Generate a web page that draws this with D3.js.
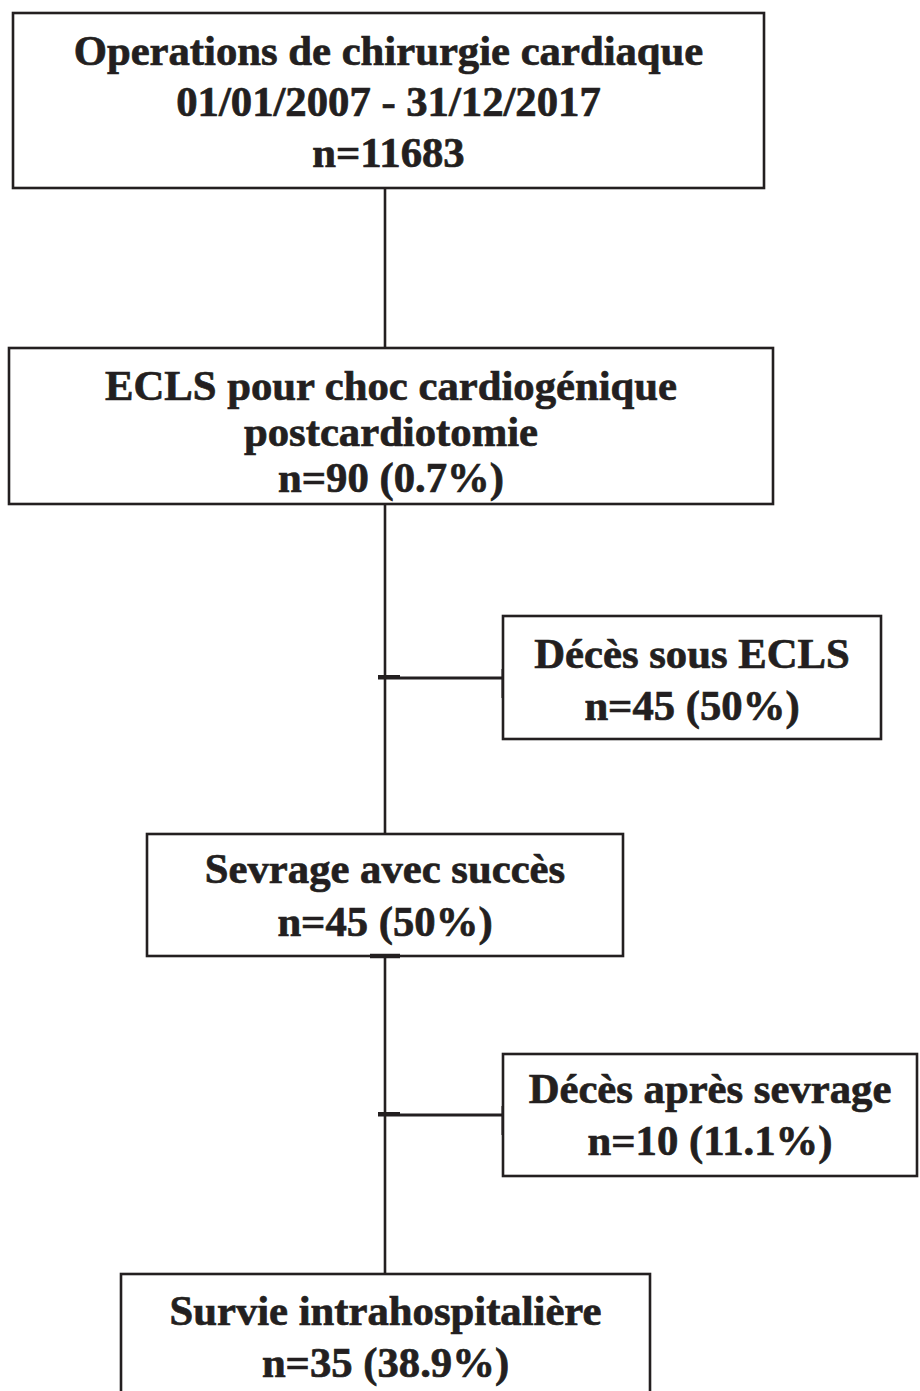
<!DOCTYPE html>
<html>
<head>
<meta charset="utf-8">
<script src="https://cdn.jsdelivr.net/npm/d3@7"></script>
<style>
  html, body { margin: 0; padding: 0; background: #fff; }
</style>
</head>
<body>
<div id="diagram"></div>
<script>
!(function () {
  // - - - - - - - - - -

  // texts of the flow chart (one entry per box)
  const titles = [
    'Operations de chirurgie cardiaque',
    'ECLS pour choc cardiogénique',
    'Décès sous ECLS',
    'Sevrage avec succès',
    'Décès après sevrage',
    'Survie intrahospitalière'
  ];
  const subtitles = [
    ['01/01/2007 - 31/12/2017'],
    ['postcardiotomie'],
    [],
    [],
    [],
    []
  ];
  const counts = [11683, 90, 45, 45, 10, 35];
  const percents = [null, '0.7%', '50%', '50%', '11.1%', '38.9%'];

  // layout (pixels): box edges, first baseline, line step
  const boxes = [
    { x0: 13,  x1: 764, y0: 13,   y1: 188 },
    { x0: 9,   x1: 773, y0: 348,  y1: 504 },
    { x0: 503, x1: 881, y0: 616,  y1: 739 },
    { x0: 147, x1: 623, y0: 834,  y1: 956 },
    { x0: 503, x1: 917, y0: 1054, y1: 1176 },
    { x0: 121, x1: 650, y0: 1274, y1: 1410 }
  ];
  const firstBaseline = [65, 400, 668, 883, 1103, 1325];
  const lineStep = [51, 46, 52, 53, 52, 52];

  let
    width = 920,
    height = 1391,
    spineX = 385,
    ink = '#231f20',
    svg;

  svg = d3.select('#diagram')
    .append('svg')
    .attr('width', width)
    .attr('height', height)
    .attr('viewBox', '0 0 ' + width + ' ' + height);

  const nodes = titles.map(function (t, i) {
    let lines = [t].concat(subtitles[i]);
    lines.push('n=' + counts[i] + (percents[i] ? ' (' + percents[i] + ')' : ''));
    return { lines: lines, box: boxes[i], base: firstBaseline[i], step: lineStep[i] };
  });

  // vertical spine
  const links = [[0, 1], [1, 3], [3, 5]];
  svg.selectAll('line.spine')
    .data(links)
    .enter()
    .append('line')
    .attr('class', 'spine')
    .attr('x1', spineX)
    .attr('x2', spineX)
    .attr('y1', function (d) { return boxes[d[0]].y1; })
    .attr('y2', function (d) { return boxes[d[1]].y0; })
    .style('stroke', ink)
    .style('stroke-width', 2.6);

  // side branches to the death boxes
  const branches = [2, 4];
  const branchY = function (i) { return boxes[i].y0 + (i === 2 ? 62 : 61); };

  svg.selectAll('line.branch')
    .data(branches)
    .enter()
    .append('line')
    .attr('class', 'branch')
    .attr('x1', spineX - 7)
    .attr('x2', function (d) { return boxes[d].x0; })
    .attr('y1', branchY)
    .attr('y2', branchY)
    .style('stroke', ink)
    .style('stroke-width', 3);

  // small thick marks where the branches start / end
  svg.selectAll('line.tick')
    .data(branches)
    .enter()
    .append('line')
    .attr('x1', spineX - 7)
    .attr('x2', spineX + 15)
    .attr('y1', function (d) { return branchY(d) - 1; })
    .attr('y2', function (d) { return branchY(d) - 1; })
    .style('stroke', ink)
    .style('stroke-width', 4);

  svg.selectAll('line.endmark')
    .data(branches)
    .enter()
    .append('line')
    .attr('x1', function (d) { return boxes[d].x0 + 0.5; })
    .attr('x2', function (d) { return boxes[d].x0 + 0.5; })
    .attr('y1', function (d) { return branchY(d) - 9; })
    .attr('y2', function (d) { return branchY(d) + 20; })
    .style('stroke', ink)
    .style('stroke-width', 4);

  // boxes
  const g = svg.selectAll('g.node')
    .data(nodes)
    .enter()
    .append('g')
    .attr('class', 'node');

  g.append('rect')
    .attr('x', function (d) { return d.box.x0; })
    .attr('y', function (d) { return d.box.y0; })
    .attr('width', function (d) { return d.box.x1 - d.box.x0; })
    .attr('height', function (d) { return d.box.y1 - d.box.y0; })
    .style('fill', 'white')
    .style('stroke', ink)
    .style('stroke-width', 2.6);

  // thick mark at the bottom of "Sevrage" box
  svg.append('line')
    .attr('x1', spineX - 15)
    .attr('x2', spineX + 15)
    .attr('y1', boxes[3].y1)
    .attr('y2', boxes[3].y1)
    .style('stroke', ink)
    .style('stroke-width', 4.5);

  g.each(function (d) {
    const cx = (d.box.x0 + d.box.x1) / 2;
    d3.select(this).selectAll('text')
      .data(d.lines)
      .enter()
      .append('text')
      .attr('x', cx)
      .attr('y', function (t, j) { return d.base + j * d.step; })
      .attr('text-anchor', 'middle')
      .style('font-family', '"Liberation Serif", "Times New Roman", serif')
      .style('font-weight', 'bold')
      .style('font-size', '42.7px')
      .style('fill', ink)
      .style('stroke', ink)
      .style('stroke-width', 0.7)
      .text(function (t) { return t; });
  });

  // - - - - - - - - - -
}());
</script>
</body>
</html>
